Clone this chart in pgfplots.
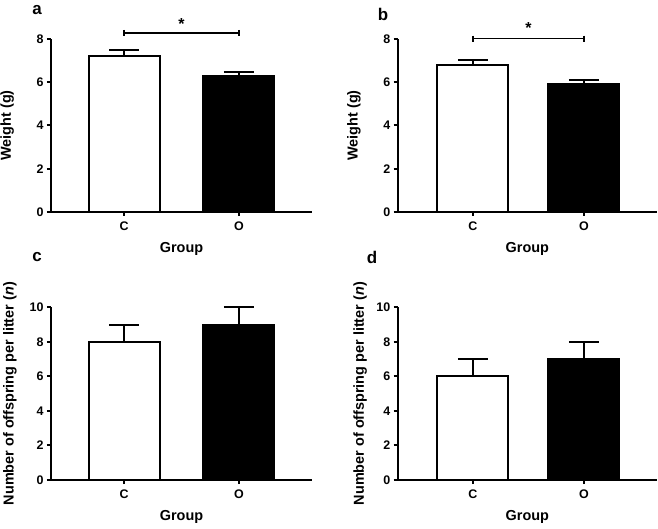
\documentclass[border=0pt]{standalone}
\usepackage{pgfplots}
\pgfplotsset{compat=1.18}
\usepackage{fontspec}
\setmainfont{Liberation Sans}
\pgfplotsset{
  panel/.style={
    scale only axis,
    axis lines=left,
    axis line style={-, line width=2bp},
    tick align=outside,
    major tick length=4bp,
    tick style={line width=2bp, black},
    xtick={0,1},
    xticklabels={C,O},
    ymin=0,
    clip=false,
    /pgf/number format/assume math mode=true,
    tick label style={font=\bfseries\fontsize{12.5}{12.5}\selectfont},
    xticklabel style={font=\bfseries\fontsize{12.5}{12.5}\selectfont, yshift=-2bp},
    yticklabel style={font=\bfseries\fontsize{12.5}{12.5}\selectfont},
    label style={font=\bfseries\fontsize{14.5}{14.5}\selectfont},
    xlabel={Group},
    xlabel style={at={(rel axis cs:0.5,-0.215)}, anchor=center},
  },
  cbar/.style={ybar, bar width=71bp, bar shift=0pt, draw=black, line width=2bp, fill=white,
    error bars/.cd, y dir=plus, y explicit,
    error bar style={line width=2bp, black},
    error mark options={rotate=90, mark size=15bp, line width=2bp, black}},
  obar/.style={ybar, bar width=71bp, bar shift=0pt, draw=black, line width=2bp, fill=black,
    error bars/.cd, y dir=plus, y explicit,
    error bar style={line width=2bp, black},
    error mark options={rotate=90, mark size=15bp, line width=2bp, black}},
  sig/.style={black, line width=1.5bp, mark=|, mark size=3bp, mark options={line width=1.5bp}},
}
\begin{document}
\begin{tikzpicture}
\useasboundingbox (0,0) rectangle (658bp,529bp);
% panel a
\begin{axis}[panel, at={(51bp,317bp)}, anchor=south west, width=261bp, height=173bp,
  xmin=-0.635, xmax=1.635, ymax=8, ytick={0,2,4,6,8},
  ylabel={Weight (g)}, ylabel style={at={(rel axis cs:-0.168,0.5)}, anchor=center}]
\addplot[cbar] coordinates {(0,7.22) +- (0,0.25)};
\addplot[obar] coordinates {(1,6.30) +- (0,0.18)};
\addplot[sig] coordinates {(0,8.28) (1,8.28)};
\node[font=\bfseries\fontsize{16}{16}\selectfont] at (axis cs:0.5,8.7) {*};
\end{axis}
% panel b
\begin{axis}[panel, at={(397.7bp,317bp)}, anchor=south west, width=259.3bp, height=173bp,
  xmin=-0.678, xmax=1.658, ymax=8, ytick={0,2,4,6,8},
  ylabel={Weight (g)}, ylabel style={at={(rel axis cs:-0.169,0.5)}, anchor=center}]
\addplot[cbar] coordinates {(0,6.82) +- (0,0.22)};
\addplot[obar] coordinates {(1,5.90) +- (0,0.19)};
\addplot[sig] coordinates {(0,8.02) (1,8.02)};
\node[font=\bfseries\fontsize{16}{16}\selectfont] at (axis cs:0.5,8.5) {*};
\end{axis}
% panel c
\begin{axis}[panel, at={(51bp,49bp)}, anchor=south west, width=261bp, height=172.7bp,
  xmin=-0.635, xmax=1.635, ymax=10, ytick={0,2,4,6,8,10},
  ylabel={Number of offspring per litter (\textit{n})}, ylabel style={at={(rel axis cs:-0.157,0.5)}, anchor=center}]
\addplot[cbar] coordinates {(0,8) +- (0,1)};
\addplot[obar] coordinates {(1,9) +- (0,1)};
\end{axis}
% panel d
\begin{axis}[panel, at={(397.7bp,49bp)}, anchor=south west, width=259.3bp, height=172.7bp,
  xmin=-0.678, xmax=1.658, ymax=10, ytick={0,2,4,6,8,10},
  ylabel={Number of offspring per litter (\textit{n})}, ylabel style={at={(rel axis cs:-0.145,0.5)}, anchor=center}]
\addplot[cbar] coordinates {(0,6) +- (0,1)};
\addplot[obar] coordinates {(1,7) +- (0,1)};
\end{axis}
% panel letters
\node[font=\bfseries\fontsize{17}{17}\selectfont] at (37bp,519bp) {a};
\node[font=\bfseries\fontsize{17}{17}\selectfont] at (383bp,515bp) {b};
\node[font=\bfseries\fontsize{17}{17}\selectfont] at (37bp,272bp) {c};
\node[font=\bfseries\fontsize{17}{17}\selectfont] at (372bp,272bp) {d};
\end{tikzpicture}
\end{document}
